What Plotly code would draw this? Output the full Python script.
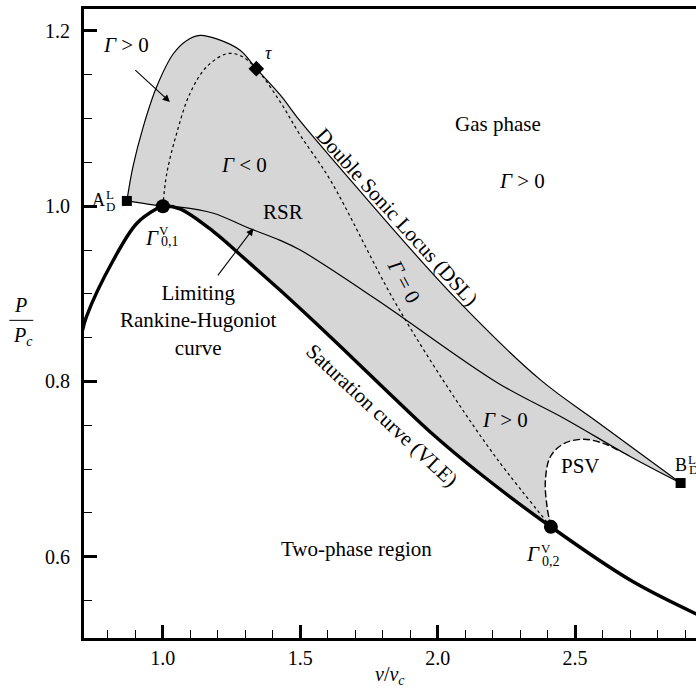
import plotly.graph_objects as go

# ---------------- data ----------------
# Saturation curve (VLE)
sat_v = [0.706, 0.722, 0.819, 0.904, 0.977, 1.000, 1.062, 1.184, 1.305, 1.427, 1.609, 1.792, 1.974, 2.157, 2.412, 2.702, 2.945]
sat_p = [0.856, 0.874, 0.938, 0.980, 0.997, 1.000, 0.997, 0.971, 0.938, 0.904, 0.851, 0.796, 0.742, 0.694, 0.634, 0.573, 0.534]

# Double Sonic Locus (DSL), from A_D^L to B_D^L
dsl_v = [0.869, 0.891, 0.928, 0.977, 1.038, 1.086, 1.135, 1.196, 1.281, 1.340, 1.427, 1.500, 1.682, 2.059, 2.373, 2.580, 2.884]
dsl_p = [1.006, 1.045, 1.090, 1.136, 1.174, 1.189, 1.195, 1.191, 1.178, 1.157, 1.127, 1.097, 1.030, 0.897, 0.802, 0.754, 0.684]

# Limiting Rankine-Hugoniot curve (RSR boundary)
rsr_v = [0.869, 0.935, 1.000, 1.062, 1.184, 1.305, 1.427, 1.500, 1.780, 2.220, 2.459, 2.702, 2.884]
rsr_p = [1.006, 1.003, 1.000, 0.999, 0.992, 0.976, 0.961, 0.950, 0.893, 0.798, 0.758, 0.714, 0.684]

# Gamma = 0 locus (dotted)
g0_v = [1.000, 1.014, 1.050, 1.099, 1.159, 1.232, 1.281, 1.340, 1.427, 1.500, 1.609, 1.840, 2.035, 2.215, 2.412]
g0_p = [1.000, 1.037, 1.083, 1.129, 1.159, 1.174, 1.172, 1.157, 1.119, 1.081, 1.030, 0.893, 0.794, 0.712, 0.634]

# PSV boundary (dashed)
psv_v = [2.412, 2.398, 2.392, 2.410, 2.459, 2.532, 2.605, 2.665]
psv_p = [0.634, 0.657, 0.687, 0.714, 0.729, 0.734, 0.729, 0.720]

# tau point
tau_v = [1.340]
tau_p = [1.157]

x_ticks = [1.0, 1.5, 2.0, 2.5]
y_ticks = [0.6, 0.8, 1.0, 1.2]

# ---------------- figure ----------------
FONT = "Liberation Serif"
fig = go.Figure()

# shaded region: between DSL (upper) and lower boundary
i1 = sat_v.index(g0_v[0])
i2 = sat_v.index(g0_v[-1])
r1 = rsr_v.index(g0_v[0])
low_v = rsr_v[:r1 + 1] + sat_v[i1 + 1:i2 + 1] + psv_v[1:] + [v for v in rsr_v if v > psv_v[-1]]
low_p = rsr_p[:r1 + 1] + sat_p[i1 + 1:i2 + 1] + psv_p[1:] + [p for v, p in zip(rsr_v, rsr_p) if v > psv_v[-1]]

fig.add_trace(go.Scatter(x=dsl_v, y=dsl_p, mode="lines", line=dict(width=0, shape="spline"),
                         hoverinfo="skip"))
fig.add_trace(go.Scatter(x=low_v, y=low_p, mode="lines", fill="tonexty", fillcolor="#d6d6d6",
                         line=dict(width=0, shape="spline", smoothing=0.8), hoverinfo="skip"))

# curves
fig.add_trace(go.Scatter(x=g0_v, y=g0_p, mode="lines",
                         line=dict(color="black", width=1.2, dash="dot", shape="spline")))
fig.add_trace(go.Scatter(x=psv_v, y=psv_p, mode="lines",
                         line=dict(color="black", width=1.4, dash="7px,3px", shape="spline")))
fig.add_trace(go.Scatter(x=rsr_v, y=rsr_p, mode="lines",
                         line=dict(color="black", width=1.2, shape="spline")))
fig.add_trace(go.Scatter(x=dsl_v, y=dsl_p, mode="lines",
                         line=dict(color="black", width=1.2, shape="spline")))
fig.add_trace(go.Scatter(x=sat_v, y=sat_p, mode="lines",
                         line=dict(color="black", width=3.4, shape="spline")))

# markers
fig.add_trace(go.Scatter(x=[dsl_v[0], dsl_v[-1]], y=[dsl_p[0], dsl_p[-1]], mode="markers",
                         marker=dict(symbol="square", size=10, color="black")))
fig.add_trace(go.Scatter(x=[g0_v[0], g0_v[-1]], y=[g0_p[0], g0_p[-1]], mode="markers",
                         marker=dict(symbol="circle", size=14, color="black")))
fig.add_trace(go.Scatter(x=tau_v, y=tau_p, mode="markers",
                         marker=dict(symbol="diamond", size=12, color="black")))

ann = []


def txt(x, y, s, size=21, angle=0, xanchor="center", yanchor="middle"):
    ann.append(dict(x=x, y=y, xref="x", yref="y", text=s, showarrow=False, textangle=angle,
                    xanchor=xanchor, yanchor=yanchor, font=dict(family=FONT, size=size, color="black")))


txt(0.864, 1.1836, "<i>Γ</i> > 0")
txt(1.2945, 1.0468, "<i>Γ</i> < 0")
txt(2.221, 1.094, "Gas phase")
txt(2.307, 1.0285, "<i>Γ</i> > 0")
txt(2.246, 0.7565, "<i>Γ</i> > 0")
txt(1.438, 0.9935, "RSR")
txt(2.519, 0.7037, "PSV")
txt(1.704, 0.609, "Two-phase region")
txt(1.129, 0.870, "Limiting<br>Rankine-Hugoniot<br>curve")
txt(1.852, 0.988, "Double Sonic Locus (DSL)", angle=48)
txt(1.876, 0.9145, "<i>Γ</i> = 0", angle=62)
txt(1.7956, 0.7617, "Saturation curve (VLE)", angle=43)
txt(1.384, 1.175, "<i>τ</i>", size=18)

# A_D^L
txt(0.766, 1.0068, "A", size=18)
txt(0.8066, 1.0135, "L", size=13)
txt(0.810, 0.9992, "D", size=13)
# B_D^L
txt(2.884, 0.7046, "B", size=18)
txt(2.927, 0.711, "L", size=13)
txt(2.931, 0.699, "D", size=13)
# Gamma_{0,1}^V
txt(0.9588, 0.9632, "<i>Γ</i>", size=21)
txt(1.0044, 0.972, "V", size=13)
txt(1.0255, 0.9593, "0,1", size=14)
# Gamma_{0,2}^V
txt(2.346, 0.6028, "<i>Γ</i>", size=21)
txt(2.394, 0.6088, "V", size=13)
txt(2.412, 0.595, "0,2", size=14)

# arrows
for (hx, hy, tx, ty) in [(1.0255, 1.119, 0.8942, 1.157), (1.3296, 0.9746, 1.196, 0.9194)]:
    ann.append(dict(x=hx, y=hy, ax=tx, ay=ty, xref="x", yref="y", axref="x", ayref="y",
                    text="", showarrow=True, arrowhead=2, arrowsize=1.3, arrowwidth=1.1,
                    arrowcolor="black"))

# axis titles
ann.append(dict(x=0.5, y=-0.0595, xref="paper", yref="paper", showarrow=False,
                text="<i>v</i>/<i>v</i><sub><i>c</i></sub>", xanchor="center", yanchor="middle",
                font=dict(family=FONT, size=20, color="black")))
ann.append(dict(x=-0.104, y=0.529, xref="paper", yref="paper", showarrow=False,
                text="<i>P</i>", xanchor="center", yanchor="middle",
                font=dict(family=FONT, size=20, color="black")))
ann.append(dict(x=-0.100, y=0.479, xref="paper", yref="paper", showarrow=False,
                text="<i>P</i><sub><i>c</i></sub>", xanchor="center", yanchor="middle",
                font=dict(family=FONT, size=20, color="black")))

fig.update_layout(
    width=696, height=690,
    margin=dict(l=83.8, r=0, t=8.5, b=51.5),
    paper_bgcolor="white", plot_bgcolor="white",
    showlegend=False,
    font=dict(family=FONT, size=20, color="black"),
    annotations=ann,
    shapes=[dict(type="line", xref="paper", yref="paper", x0=-0.122, x1=-0.083, y0=0.505, y1=0.505,
                 line=dict(color="black", width=1))],
)
fig.update_xaxes(range=[0.713, 2.940], showline=True, linewidth=3, linecolor="black", mirror=True,
                 showgrid=False, zeroline=False, ticks="inside", ticklen=13, tickwidth=2.5,
                 tickcolor="black", tickvals=x_ticks, ticktext=[f"{v:.1f}" for v in x_ticks],
                 tickfont=dict(family=FONT, size=20), ticklabelstandoff=0,
                 minor=dict(dtick=0.1, tick0=0, ticks="inside", ticklen=8, tickwidth=1.4, tickcolor="black"))
fig.update_yaxes(range=[0.5071, 1.2251], showline=True, linewidth=3, linecolor="black", mirror=False,
                 showgrid=False, zeroline=False, ticks="inside", ticklen=13, tickwidth=2.5,
                 tickcolor="black", tickvals=y_ticks, ticktext=[f"{v:.1f}" for v in y_ticks],
                 tickfont=dict(family=FONT, size=20), ticklabelstandoff=7,
                 minor=dict(dtick=0.05, tick0=0, ticks="inside", ticklen=8, tickwidth=1.4, tickcolor="black"))

fig.write_html("out.html", config={"displayModeBar": False},
               post_script="document.body.style.margin='0';document.body.style.overflow='hidden';")
